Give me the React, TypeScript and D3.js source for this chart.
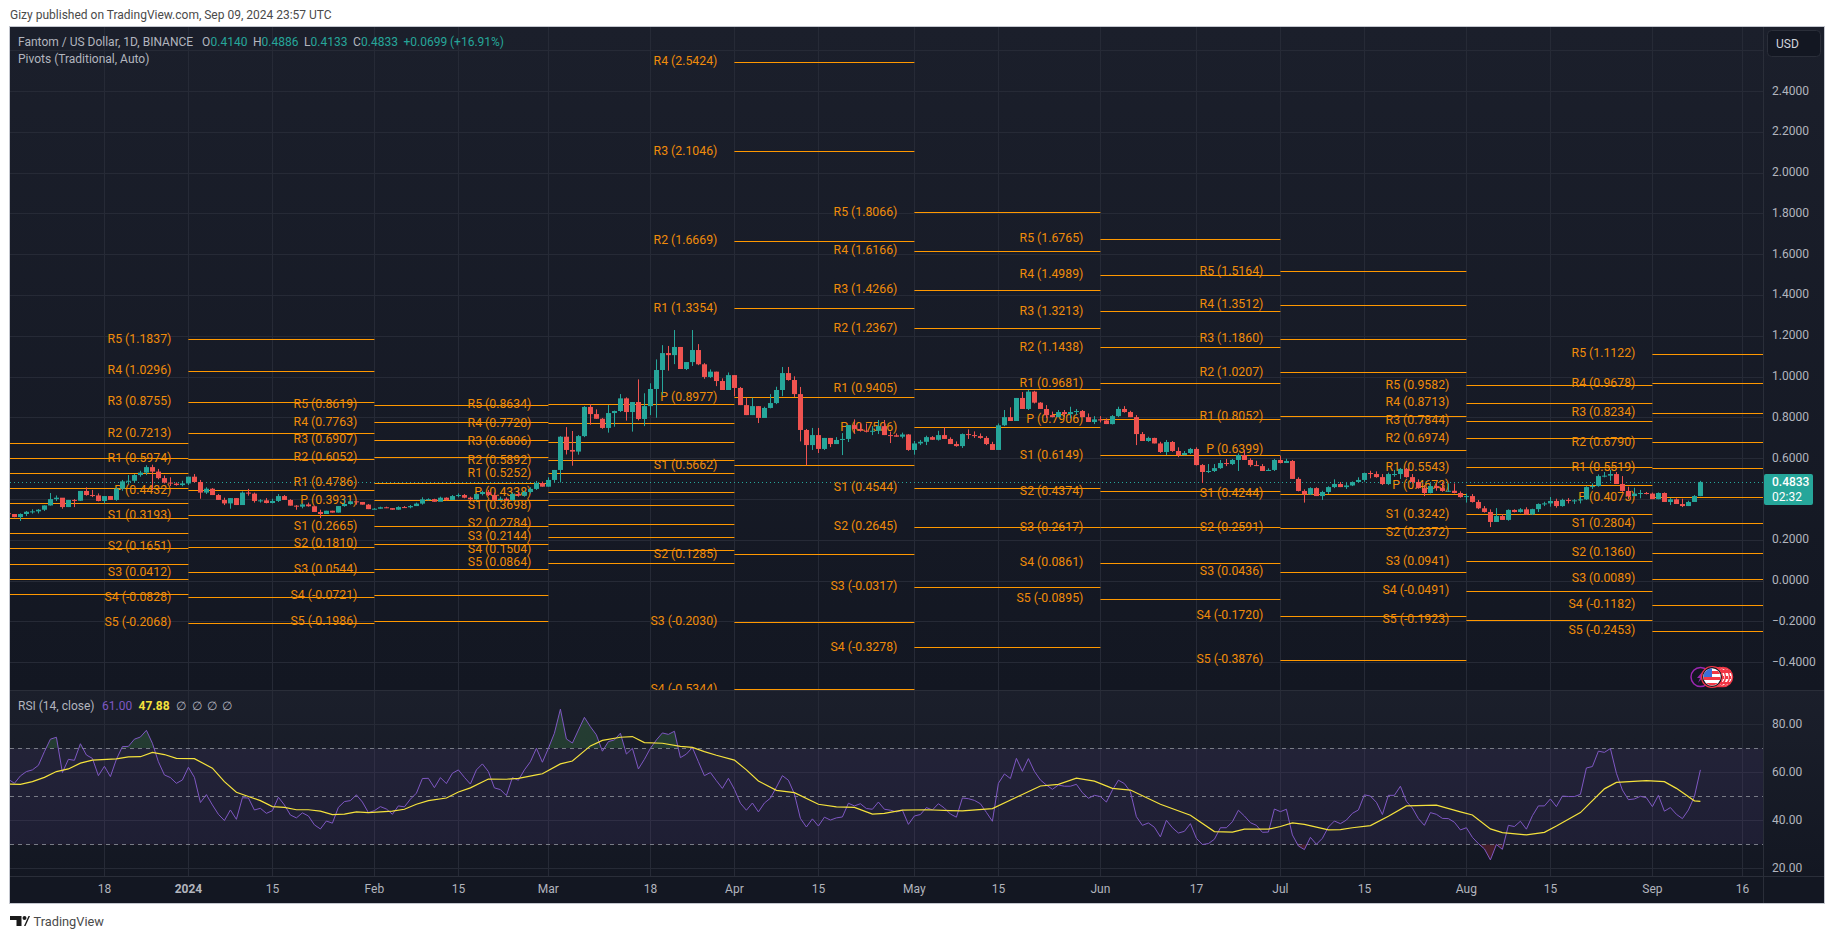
import React from "react";
import * as d3 from "d3";

// daily candles, 2 Dec 2023 .. 9 Sep 2024
const firstDay = new Date(Date.UTC(2023, 11, 2));
const firstOpen = 0.33;

const closes = [
  .326,.311,.326,.337,.339,.347,.368,.399,.406,.360,
  .395,.391,.439,.419,.417,.390,.414,.395,.450,.486,
  .489,.517,.529,.556,.534,.502,.480,.475,.468,.476,
  .509,.483,.431,.450,.419,.395,.378,.404,.370,.431,
  .426,.390,.393,.380,.390,.414,.395,.367,.362,.373,
  .364,.336,.326,.342,.333,.365,.375,.388,.385,.372,
  .350,.352,.359,.355,.347,.360,.359,.365,.377,.398,
  .399,.386,
  .406,.395,.414,.419,.406,.398,.424,.434,.419,.395,
  .401,.395,.424,.416,.434,.449,.478,.460,.493,.542,
  .705,.640,.632,.708,.851,.816,.793,.748,.821,.831,
  .893,.826,.875,.792,.855,.939,1.032,1.115,1.105,1.145,
  1.037,1.071,1.130,1.060,.998,1.024,.978,.934,1.007,.944,
  .860,.811,.855,.797,.846,.870,.934,1.017,.983,.914,
  .738,.664,.713,.645,.699,.669,.689,.694,.762,.743,
  .734,.730,.734,.757,.713,.712,.705,.716,
  .640,.672,.680,.703,.690,.713,.694,.669,.659,.718,
  .713,.708,.699,.669,.640,.761,.801,.782,.895,.841,
  .926,.872,.841,.811,.801,.826,.816,.826,.831,.801,
  .777,.790,.785,.767,.806,.841,.826,.801,.718,.684,
  .699,.672,.630,.679,.635,.615,.625,.645,.566,.532,
  .537,.551,.576,.571,.591,.615,.591,.566,.561,.537,
  .542,.591,.576,
  .586,.498,.439,.422,.453,.414,.434,
  .458,.473,.458,.466,.483,.493,.527,.522,.507,.473,
  .522,.522,.547,.507,.483,.453,.429,.463,.453,.439,
  .440,.429,.409,.414,.385,.354,.336,.287,.316,.297,
  .346,.336,.349,.324,.350,.375,.378,.390,.365,.395,
  .390,.393,.398,.458,.463,.512,.514,.522,.473,.439,
  .414,.426,.429,.426,.399,.429,.385,.398,.375,.365,
  .385,.414,.4833,
];

const highs = [
  .329,.326,.329,.341,.349,.350,.368,.429,.417,.404,
  .395,.399,.439,.457,.444,.427,.414,.414,.457,.493,
  .517,.522,.538,.565,.568,.547,.515,.506,.481,.489,
  .509,.522,.493,.457,.453,.424,.406,.404,.404,.437,
  .449,.431,.399,.404,.401,.424,.419,.399,.370,.378,
  .382,.365,.347,.342,.342,.365,.403,.391,.388,.385,
  .375,.355,.362,.362,.355,.364,.365,.370,.382,.408,
  .403,.401,
  .411,.408,.419,.427,.424,.411,.427,.440,.444,.431,
  .411,.408,.431,.435,.440,.457,.488,.485,.506,.542,
  .708,.752,.733,.713,.855,.864,.839,.797,.860,.833,
  .914,.898,.875,.986,.918,.967,1.084,1.154,1.150,1.228,
  1.145,1.071,1.228,1.159,1.066,1.035,1.024,.991,1.020,1.007,
  .949,.896,.896,.855,.852,.914,.950,1.047,1.047,1.001,
  .949,.743,.748,.748,.699,.699,.703,.723,.762,.790,
  .770,.770,.757,.787,.787,.730,.721,.725,
  .718,.684,.689,.710,.708,.734,.751,.702,.682,.721,
  .741,.731,.721,.708,.680,.770,.836,.849,.895,.924,
  .934,.930,.875,.860,.828,.836,.836,.852,.841,.836,
  .819,.806,.806,.795,.811,.852,.855,.832,.811,.728,
  .705,.700,.680,.689,.684,.653,.635,.650,.653,.571,
  .571,.571,.591,.596,.596,.623,.640,.599,.587,.571,
  .550,.596,.610,
  .597,.591,.506,.447,.457,.457,.440,
  .462,.496,.483,.480,.486,.506,.529,.538,.535,.522,
  .529,.542,.552,.552,.522,.496,.468,.476,.476,.480,
  .476,.476,.437,.426,.424,.395,.365,.349,.355,.326,
  .349,.349,.355,.359,.352,.378,.386,.409,.401,.401,
  .404,.399,.409,.462,.476,.520,.532,.542,.532,.512,
  .460,.455,.444,.434,.431,.432,.432,.404,.403,.401,
  .391,.419,.4886,
];

const lows = [
  .308,.310,.292,.316,.328,.329,.341,.367,.390,.352,
  .360,.360,.390,.416,.409,.388,.378,.395,.391,.440,
  .471,.478,.509,.517,.444,.496,.476,.463,.465,.462,
  .468,.480,.401,.424,.419,.395,.370,.352,.370,.372,
  .416,.382,.382,.378,.378,.385,.395,.367,.347,.354,
  .362,.336,.306,.328,.333,.333,.362,.372,.372,.372,
  .350,.349,.352,.355,.347,.346,.357,.354,.365,.372,
  .393,.386,
  .395,.391,.395,.408,.403,.395,.395,.417,.414,.391,
  .395,.391,.391,.411,.411,.427,.444,.460,.460,.481,
  .481,.618,.563,.617,.703,.764,.793,.744,.725,.754,
  .826,.784,.730,.785,.757,.811,.798,.911,1.029,1.061,
  1.037,1.032,1.052,1.056,.989,.993,.953,.934,.934,.903,
  .860,.811,.811,.772,.797,.844,.865,.904,.980,.900,
  .682,.565,.640,.625,.640,.654,.669,.615,.679,.721,
  .730,.726,.713,.718,.713,.674,.705,.697,
  .636,.617,.664,.664,.689,.686,.694,.669,.656,.650,
  .694,.699,.695,.664,.640,.640,.757,.782,.782,.841,
  .836,.868,.841,.797,.800,.801,.801,.795,.811,.801,
  .777,.767,.775,.767,.765,.801,.823,.801,.664,.684,
  .680,.672,.625,.615,.631,.605,.614,.620,.564,.478,
  .527,.532,.547,.561,.566,.537,.591,.558,.561,.537,
  .537,.537,.574,
  .578,.498,.437,.382,.419,.414,.395,
  .424,.453,.458,.449,.463,.481,.484,.501,.504,.468,
  .468,.509,.498,.504,.476,.450,.414,.427,.440,.435,
  .435,.427,.406,.382,.382,.350,.333,.262,.287,.297,
  .293,.334,.333,.321,.321,.336,.365,.362,.357,.362,
  .378,.375,.378,.395,.449,.460,.506,.489,.473,.435,
  .398,.414,.403,.422,.399,.398,.385,.370,.375,.360,
  .365,.385,.4133,
];

const rsi = [
  57.1,55.4,58.5,60.3,61.0,62.9,68.6,73.8,74.6,59.9,
  65.4,65.0,71.9,67.2,65.8,58.6,62.5,58.2,65.4,70.7,
  70.8,73.8,74.7,77.5,72.1,64.4,58.9,57.8,55.4,56.8,
  62.1,57.9,47.4,50.7,46.4,42.5,39.9,44.3,40.4,49.4,
  49.3,44.3,45.0,42.9,44.0,49.6,46.4,42.2,41.0,43.1,
  41.8,38.1,36.4,39.7,38.8,45.4,47.8,48.2,50.6,47.6,
  43.2,44.0,45.7,44.7,42.5,46.0,45.6,48.8,51.3,57.4,
  57.5,53.6,57.8,55.3,59.6,61.0,57.9,55.1,61.0,63.5,
  60.3,53.5,52.8,50.3,57.8,56.7,61.0,64.4,70.0,64.2,
  70.0,76.3,86.3,73.9,72.2,77.6,82.9,79.0,75.6,68.8,
  72.8,73.5,76.3,
  67.6,70.0,61.4,65.4,70.0,73.5,76.4,
  75.8,77.1,66.1,67.6,70.3,64.4,58.6,59.9,56.5,53.3,
  57.5,52.9,47.1,44.2,47.2,43.5,47.2,49.2,53.8,58.6,
  56.7,51.0,40.8,37.2,40.6,37.6,41.3,40.1,41.0,41.4,
  47.1,46.0,46.9,44.9,44.6,47.6,44.6,44.2,43.5,44.2,
  38.3,41.8,42.4,45.3,44.3,46.9,45.1,42.6,41.3,49.3,
  49.0,48.3,46.9,43.3,39.6,55.4,59.3,57.4,65.8,60.4,
  65.7,60.4,56.8,54.7,52.9,54.7,54.2,54.2,55.0,51.5,
  49.2,50.4,49.9,47.6,52.6,56.7,55.3,51.9,41.5,37.9,
  38.9,37.1,33.1,40.0,36.9,34.7,35.4,38.6,32.5,29.9,
  30.3,32.1,36.9,36.9,39.4,44.2,41.8,39.0,37.9,35.0,
  35.1,44.7,43.6,44.6,33.9,29.3,27.8,32.9,30.0,32.5,
  37.2,39.7,38.6,40.1,42.9,44.3,50.6,50.1,47.5,42.4,
  50.4,50.4,54.2,47.9,45.1,40.7,37.9,43.2,42.5,40.8,
  40.7,39.2,36.0,36.9,32.9,30.3,28.1,23.5,29.9,27.9,
  37.9,37.4,39.6,36.3,41.9,46.0,46.0,48.9,45.7,50.1,
  49.9,49.9,50.8,61.8,62.4,68.8,68.3,69.9,59.6,52.6,
  48.6,48.9,50.0,49.4,45.7,50.4,43.8,45.3,42.5,40.7,
  44.3,49.9,61.0,
];

// RSI moving average, read at the vertices of the yellow curve (days from 1 Jan 2024)
const maDays = [
  -30,-28,-26,-24,-22,-20,-18,-16,-12,-10,-8,-6,-4,-2,1,4,6,8,10,12,14,16,18,20,22,24,26,28,30,34,36,38,40,43,45,47,50,53,55,58,59,62,64,67,69,72,
  74,76,79,82,84,86,88,91,93,95,98,101,105,108,111,114,116,119,123,127,129,134,138,142,145,148,151,154,157,162,167,171,174,
  176,180,182,184,186,190,192,194,197,200,203,208,212,214,217,219,223,226,228,232,236,238,243,246,248,251,252,
];
const maValues = [
  55.1,55.0,56.1,57.9,60.3,61.4,63.8,65.1,65.6,66.4,66.5,68.3,67.4,65.8,65.7,61.7,56.1,51.7,49.9,48.2,45.7,45.4,44.4,44.4,43.8,42.4,42.6,43.5,43.2,43.8,44.6,46.7,48.2,49.3,51.8,53.5,57.2,57.1,57.5,58.9,59.4,63.5,64.7,71.0,73.3,74.6,
  74.9,72.4,72.1,70.8,70.4,68.6,67.1,65.1,61.0,56.4,52.5,51.5,46.7,45.6,45.4,42.6,42.9,44.2,44.4,44.0,43.9,44.9,49.6,54.3,55.0,57.6,56.3,53.3,52.6,46.7,42.1,35.3,35.1,
  36.3,36.3,37.4,38.9,38.3,36.0,36.1,36.9,37.8,41.7,46.0,46.3,43.5,42.2,36.4,34.9,33.9,35.0,37.6,43.2,53.1,55.8,56.5,56.1,53.3,48.1,47.88,
];

const levelNames = ["R5", "R4", "R3", "R2", "R1", "P", "S1", "S2", "S3", "S4", "S5"];
const pivotStarts = ["2023-12-01", "2024-01-01", "2024-02-01", "2024-03-01", "2024-04-01", "2024-05-01", "2024-06-01", "2024-07-01", "2024-08-01", "2024-09-01"];
const pivotsDec = [.6765, .5985, .5250, .4515, .3780, .3045, .2310, .1575, .0785, .0050, -.0685];
const pivotsJan = [1.1837, 1.0296, .8755, .7213, .5974, .4432, .3193, .1651, .0412, -.0828, -.2068];
const pivotsFeb = [.8619, .7763, .6907, .6052, .4786, .3931, .2665, .1810, .0544, -.0721, -.1986];
const pivotsMar = [.8634, .7720, .6806, .5892, .5252, .4338, .3698, .2784, .2144, .1504, .0864];
const pivotsApr = [null, 2.5424, 2.1046, 1.6669, 1.3354, .8977, .5662, .1285, -.2030, -.5344, null];
const pivotsMay = [1.8066, 1.6166, 1.4266, 1.2367, .9405, .7506, .4544, .2645, -.0317, -.3278, null];
const pivotsJun = [1.6765, 1.4989, 1.3213, 1.1438, .9681, .7906, .6149, .4374, .2617, .0861, -.0895];
const pivotsJul = [1.5164, 1.3512, 1.1860, 1.0207, .8052, .6399, .4244, .2591, .0436, -.1720, -.3876];
const pivotsAug = [.9582, .8713, .7844, .6974, .5543, .4673, .3242, .2372, .0941, -.0491, -.1923];
const pivotsSep = [1.1122, .9678, .8234, .6790, .5519, .4075, .2804, .1360, .0089, -.1182, -.2453];
const pivotTable = [pivotsDec, pivotsJan, pivotsFeb, pivotsMar, pivotsApr, pivotsMay, pivotsJun, pivotsJul, pivotsAug, pivotsSep];

const priceTicks = [-0.4, -0.2, 0, 0.2, 0.4, 0.6, 0.8, 1, 1.2, 1.4, 1.6, 1.8, 2, 2.2, 2.4];
const priceGridOnly = [2.6];
const rsiTicks = [20, 40, 60, 80];
const rsiBands = [70, 50, 30];

const timeTicks = ["2023-12-18", "2024-01-01", "2024-01-15", "2024-02-01", "2024-02-15", "2024-03-01", "2024-03-18", "2024-04-01", "2024-04-15", "2024-05-01", "2024-05-15", "2024-06-01", "2024-06-17", "2024-07-01", "2024-07-15", "2024-08-01", "2024-08-15", "2024-09-01", "2024-09-16"];
const timeLabels = ["18", "2024", "15", "Feb", "15", "Mar", "18", "Apr", "15", "May", "15", "Jun", "17", "Jul", "15", "Aug", "15", "Sep", "16"];

const lastClose = 0.4833;

const UP = "#26a69a";
const DOWN = "#ef5350";
const ORANGE = "#ff9800";
const AXIS_TEXT = "#b2b5be";
const GRID = "#262a36";
const FONT = "Roboto, sans-serif";

const left = 10, right = 1763, top = 27, paneBottom = 690, rsiBottom = 876, bottom = 903, frameRight = 1824;

const x = d3.scaleUtc().domain([new Date("2023-12-18"), new Date("2024-09-16")]).range([104.4, 1742.4]);
const y = d3.scaleLinear().domain([0, 2.4]).range([580.5, 91]);
const yRsi = d3.scaleLinear().domain([30, 70]).range([844.3, 748.3]);

const days = closes.map((_, i) => d3.utcDay.offset(firstDay, i));
const opens = closes.map((_, i) => (i === 0 ? firstOpen : closes[i - 1]));
const jan1 = new Date("2024-01-01");

const rsiLine = d3.line<number>().x((_, i) => x(days[i])).y((v) => yRsi(v));
const maLine = d3.line<number>().x((_, i) => x(d3.utcDay.offset(jan1, maDays[i]))).y((v) => yRsi(v));
const rsiArea70 = d3.area<number>().x((_, i) => x(days[i])).y0(yRsi(70)).y1((v) => yRsi(v));
const rsiArea30 = d3.area<number>().x((_, i) => x(days[i])).y0(yRsi(30)).y1((v) => yRsi(v));

const crisp = (v: number) => Math.round(v) + 0.5;

const Candles = () => (
  <g>
    {closes.map((c, i) => {
      const o = opens[i];
      const cx = Math.round(x(days[i]));
      const color = c >= o ? UP : DOWN;
      const yTop = y(Math.max(o, c));
      const yBot = y(Math.min(o, c));
      return (
        <g key={i} fill={color}>
          <rect x={cx} y={y(highs[i])} width={1} height={Math.max(1, y(lows[i]) - y(highs[i]))} />
          <rect x={cx - 2} y={yTop} width={5} height={Math.max(1, yBot - yTop)} />
        </g>
      );
    })}
  </g>
);

const Pivots = () => (
  <g>
    {pivotTable.map((levels, m) => {
      const x0 = x(new Date(pivotStarts[m]));
      const x1 = m + 1 < pivotStarts.length ? x(new Date(pivotStarts[m + 1])) : right;
      return (
        <g key={m}>
          {levels.map((v, k) =>
            v === null ? null : (
              <g key={k}>
                <line x1={x0} x2={x1} y1={crisp(y(v))} y2={crisp(y(v))} stroke={ORANGE} strokeWidth={1} />
                {/* December's labels fall left of the frame */}
                {x0 - 17 > left && (
                  <text x={x0 - 17} y={y(v) + 3.5} textAnchor="end" fill="#f08c0a" fontSize={12.3}>
                    {`${levelNames[k]} (${v.toFixed(4)})`}
                  </text>
                )}
              </g>
            )
          )}
        </g>
      );
    })}
  </g>
);

const EventIcons = () => (
  <g>
    <clipPath id="flagClip"><circle cx={1712} cy={677} r={8.5} /></clipPath>
    <circle cx={1700.5} cy={677} r={9.5} fill="#131722" stroke="#9c27b0" strokeWidth={1.5} />
    <path d="M1703 671l-6 7h3l-2 5 6-7h-3z" fill="#9c27b0" />
    {[1723, 1720, 1716].map((cx) => (
      <g key={cx}>
        <circle cx={cx} cy={677} r={9.5} fill="#fff" stroke="#f23645" strokeWidth={1.5} />
        <rect x={cx} y={670} width={8} height={3} fill="#f23645" />
        <rect x={cx} y={676} width={8} height={3} fill="#f23645" />
        <rect x={cx} y={682} width={7} height={2} fill="#f23645" />
      </g>
    ))}
    <circle cx={1712} cy={677} r={9.5} fill="#fff" stroke="#131722" strokeWidth={1.5} />
    <g clipPath="url(#flagClip)">
      <rect x={1703} y={671} width={18} height={3} fill="#f23645" />
      <rect x={1703} y={677} width={18} height={3} fill="#f23645" />
      <rect x={1703} y={683} width={18} height={3} fill="#f23645" />
      <rect x={1703} y={668} width={9} height={9} fill="#3b6fd8" />
    </g>
    <circle cx={1712} cy={677} r={10.5} fill="none" stroke="#f23645" strokeWidth={1.2} />
  </g>
);

export default function App() {
  return (
    <svg
      width={1835}
      height={939}
      viewBox="0 0 1835 939"
      style={{ position: "absolute", left: 0, top: 0, display: "block", background: "#fff" }}
      fontFamily={FONT}
    >
      <defs>
        <linearGradient id="paneBg" x1="0" x2="0" y1="0" y2="1">
          <stop offset="0" stopColor="#1b1f2b" />
          <stop offset="1" stopColor="#131722" />
        </linearGradient>
        <clipPath id="mainClip"><rect x={left} y={top} width={right - left} height={paneBottom - top} /></clipPath>
        <clipPath id="rsiClip"><rect x={left} y={paneBottom} width={right - left} height={rsiBottom - paneBottom} /></clipPath>
        <clipPath id="over70"><rect x={left} y={paneBottom} width={right - left} height={yRsi(70) - paneBottom} /></clipPath>
        <clipPath id="under30"><rect x={left} y={yRsi(30)} width={right - left} height={rsiBottom - yRsi(30)} /></clipPath>
      </defs>

      <text x={10} y={19} fontSize={12} fill="#4a4a4a">Gizy published on TradingView.com, Sep 09, 2024 23:57 UTC</text>

      {/* panes */}
      <rect x={left} y={top} width={frameRight - left} height={paneBottom - top} fill="url(#paneBg)" />
      <rect x={left} y={paneBottom} width={frameRight - left} height={rsiBottom - paneBottom} fill="url(#paneBg)" />
      <rect x={left} y={rsiBottom} width={frameRight - left} height={bottom - rsiBottom} fill="#131722" />

      {/* grid */}
      {timeTicks.map((t) => (
        <line key={t} x1={crisp(x(new Date(t)))} x2={crisp(x(new Date(t)))} y1={top} y2={rsiBottom} stroke={GRID} />
      ))}
      {[...priceTicks, ...priceGridOnly].map((p) => (
        <line key={p} x1={left} x2={right} y1={crisp(y(p))} y2={crisp(y(p))} stroke={GRID} />
      ))}
      {rsiTicks.map((v) => (
        <line key={v} x1={left} x2={right} y1={crisp(yRsi(v))} y2={crisp(yRsi(v))} stroke={GRID} />
      ))}

      {/* price pane */}
      <g clipPath="url(#mainClip)">
        <Pivots />
        <line x1={left} x2={right} y1={crisp(y(lastClose))} y2={crisp(y(lastClose))} stroke={UP} strokeDasharray="1 3" />
        <Candles />
      </g>

      {/* RSI pane */}
      <g clipPath="url(#rsiClip)">
        <rect x={left} y={yRsi(70)} width={right - left} height={yRsi(30) - yRsi(70)} fill="#7e57c2" fillOpacity={0.1} />
        <path d={rsiArea70(rsi) ?? ""} clipPath="url(#over70)" fill="#4caf50" fillOpacity={0.22} />
        <path d={rsiArea30(rsi) ?? ""} clipPath="url(#under30)" fill="#f23645" fillOpacity={0.22} />
        {rsiBands.map((v) => (
          <line key={v} x1={left} x2={right} y1={crisp(yRsi(v))} y2={crisp(yRsi(v))} stroke="#787b86" strokeDasharray="4 4" />
        ))}
        <path d={rsiLine(rsi) ?? ""} fill="none" stroke="#7e57c2" strokeWidth={1} />
        <path d={maLine(maValues) ?? ""} fill="none" stroke="#f5e23c" strokeWidth={1.2} />
      </g>

      {/* separators and frame */}
      <line x1={left} x2={frameRight} y1={crisp(paneBottom)} y2={crisp(paneBottom)} stroke="#2a2e39" />
      <line x1={left} x2={frameRight} y1={crisp(rsiBottom)} y2={crisp(rsiBottom)} stroke="#2a2e39" />
      <line x1={crisp(right)} x2={crisp(right)} y1={top} y2={bottom} stroke="#2a2e39" />
      <rect x={left - 0.5} y={top - 0.5} width={frameRight - left + 1} height={bottom - top + 1} fill="none" stroke="#c4c7cf" />

      {/* price axis */}
      <g fill={AXIS_TEXT} fontSize={12}>
        {priceTicks.map((p) => (
          <text key={p} x={1772} y={y(p) + 3.5}>{d3.format(".4f")(p).replace("-", "\u2212")}</text>
        ))}
        {rsiTicks.map((v) => (
          <text key={v} x={1772} y={yRsi(v) + 3.5}>{v.toFixed(2)}</text>
        ))}
      </g>
      <rect x={1767.5} y={30.5} width={53} height={26} rx={4} fill="#131722" stroke="#2a2e39" />
      <text x={1776} y={48} fontSize={12} fill="#d1d4dc">USD</text>

      {/* last price tag */}
      <rect x={1764} y={474} width={49} height={31} rx={2} fill={UP} />
      <text x={1772} y={486} fontSize={12} fontWeight={500} fill="#fff">{lastClose.toFixed(4)}</text>
      <text x={1772} y={501} fontSize={12} fill="#fff">02:32</text>

      {/* time axis */}
      <g fontSize={12} fill={AXIS_TEXT} textAnchor="middle">
        {timeTicks.map((t, i) => (
          <text key={t} x={x(new Date(t))} y={893} fontWeight={timeLabels[i] === "2024" ? 700 : 400}>{timeLabels[i]}</text>
        ))}
      </g>

      {/* legends */}
      <g fontSize={12}>
        <text x={18} y={46} fill={AXIS_TEXT}>Fantom / US Dollar, 1D, BINANCE</text>
        <text x={202} y={46} fill={AXIS_TEXT}>O</text>
        <text x={210.5} y={46} fill={UP}>0.4140</text>
        <text x={253} y={46} fill={AXIS_TEXT}>H</text>
        <text x={261.5} y={46} fill={UP}>0.4886</text>
        <text x={304} y={46} fill={AXIS_TEXT}>L</text>
        <text x={310.5} y={46} fill={UP}>0.4133</text>
        <text x={353} y={46} fill={AXIS_TEXT}>C</text>
        <text x={361} y={46} fill={UP}>0.4833</text>
        <text x={403.5} y={46} fill={UP}>+0.0699</text>
        <text x={450} y={46} fill={UP}>(+16.91%)</text>
        <text x={18} y={63} fill={AXIS_TEXT}>Pivots (Traditional, Auto)</text>
        <text x={18} y={710} fill={AXIS_TEXT}>RSI (14, close)</text>
        <text x={102} y={710} fill="#7e57c2">61.00</text>
        <text x={138.5} y={710} fontWeight={700} fill="#f5e23c">47.88</text>
        <text x={176} y={710} fill={AXIS_TEXT}>∅</text>
        <text x={192} y={710} fill={AXIS_TEXT}>∅</text>
        <text x={207} y={710} fill={AXIS_TEXT}>∅</text>
        <text x={222} y={710} fill={AXIS_TEXT}>∅</text>
      </g>

      <EventIcons />

      {/* footer logo */}
      <path d="M10 916h11.5v10h-5v-6H10z" fill="#1a1a1a" />
      <circle cx={24.5} cy={918} r={2} fill="#1a1a1a" />
      <path d="M24 926l4.5-10H30l-4.5 10z" fill="#1a1a1a" />
      <text x={33.5} y={926} fontSize={12.8} fill="#4a4a4a">TradingView</text>
    </svg>
  );
}
